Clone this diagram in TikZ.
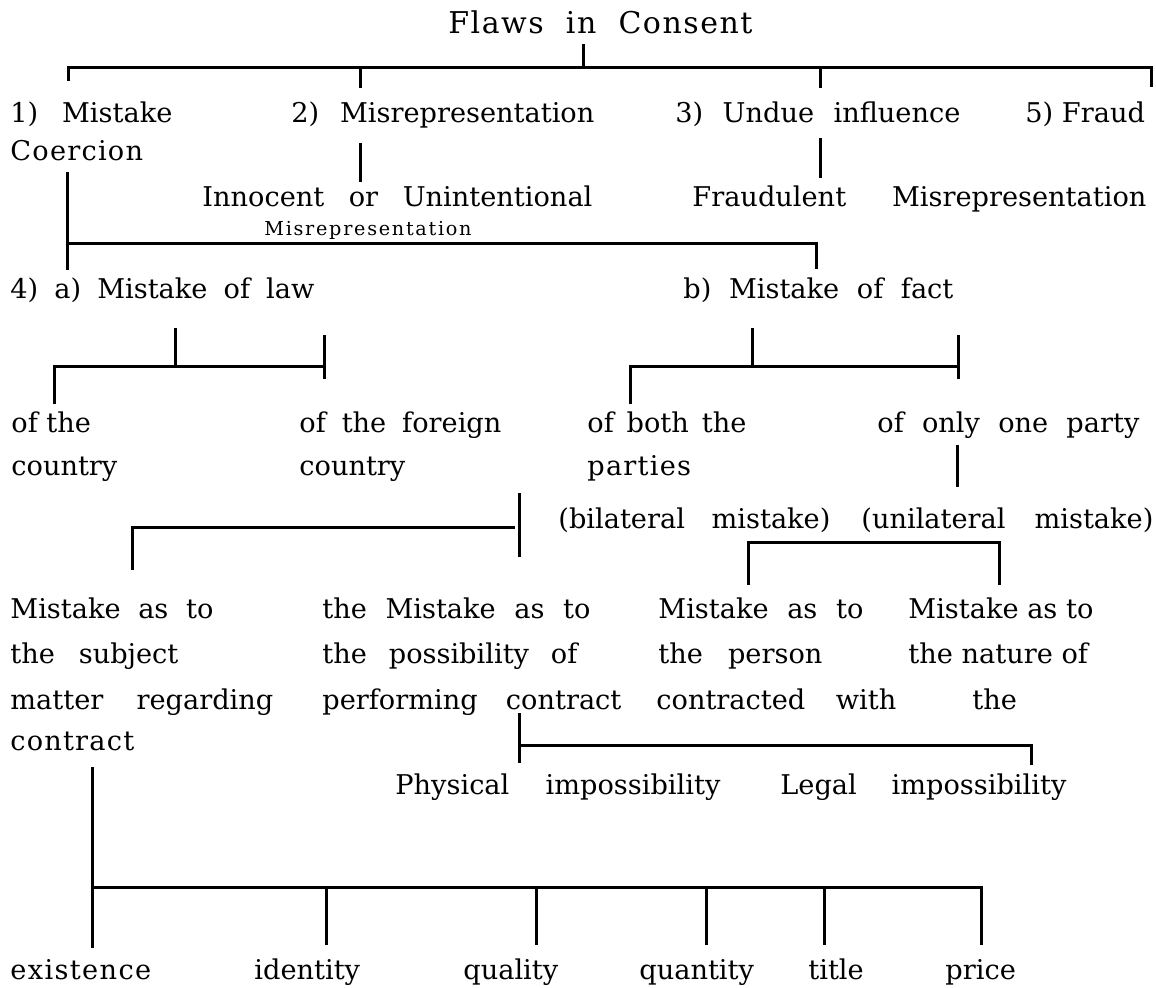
\documentclass[tikz,border=0pt]{standalone}
\usepackage{fontspec}
\setmainfont{DejaVu Serif}
\usetikzlibrary{positioning}
\newlength\pxu
\setlength\pxu{0.5pt}
% spread the words of one line over a width given in px
\newcommand\spread[2]{\makebox[#1\pxu][s]{#2}}

\begin{document}
\begin{tikzpicture}[
  x=0.5pt, y=-0.5pt,
  term/.style={anchor=base west, inner sep=0pt, font=\fontsize{13.6}{16}\selectfont},
  wideterm/.style={term, font=\fontsize{13.6}{16}\selectfont\addfontfeature{LetterSpace=#1}},
  headterm/.style={term, font=\fontsize{15}{18}\selectfont\addfontfeature{LetterSpace=5}},
  smallterm/.style={term, font=\fontsize{9.6}{12}\selectfont\addfontfeature{LetterSpace=9}},
  wire/.style={line width=1.5pt, line join=miter},
]
\useasboundingbox (0,0) rectangle (1156,987);

% title and first level
\node[headterm] (title) at (448,33) {\spread{304}{Flaws in Consent}};
\node[term] (mistake) at (10,122) {\spread{162}{1) Mistake}};
\node[term] (misrep) at (291,122) {\spread{303}{2) Misrepresentation}};
\node[term] (undue) at (675,122) {\spread{285}{3) Undue influence}};
\node[term] (fraud) at (1025,122) {5) Fraud};
\node[wideterm=4.5] (coercion) at (10,160) {Coercion};
\node[term] (innocent) at (202,206) {\spread{390}{Innocent or Unintentional}};
\node[term] (fraudmis) at (692,206) {\spread{454}{Fraudulent Misrepresentation}};
\node[smallterm] (innocentmis) at (264,235) {Misrepresentation};

\coordinate (t0) at (583,44);  \coordinate (t1) at (583,67);
\coordinate (b1) at (68,67);   \coordinate (b1d) at (68,81);
\coordinate (b2) at (360,67);  \coordinate (b2d) at (360,88);
\coordinate (b3) at (820,67);  \coordinate (b3d) at (820,88);
\coordinate (b4) at (1151,67); \coordinate (b4d) at (1151,87);
\draw[wire] (t0) -- (t1);
\draw[wire] (b1d) -- (b1) -- (b4) -- (b4d);
\draw[wire] (b2) -- (b2d);
\draw[wire] (b3) -- (b3d);

\coordinate (mr0) at (360,143); \coordinate (mr1) at (360,182);
\coordinate (ui0) at (820,138); \coordinate (ui1) at (820,178);
\draw[wire] (mr0) -- (mr1);
\draw[wire] (ui0) -- (ui1);

% mistake: law and fact
\coordinate (m0) at (67,172);  \coordinate (m1) at (67,270);
\coordinate (m2) at (67,243);  \coordinate (m3) at (816,243);
\coordinate (m4) at (816,269);
\draw[wire] (m0) -- (m1);
\draw[wire] (m2) -- (m3) -- (m4);

\node[term] (law) at (10,298) {\spread{304}{4) a) Mistake of law}};
\node[term] (fact) at (683,298) {\spread{270}{b) Mistake of fact}};

\coordinate (l0) at (175,328); \coordinate (l1) at (175,366);
\coordinate (l2) at (54,404);  \coordinate (l3) at (54,366);
\coordinate (l4) at (324,366);
\coordinate (l5) at (324,335); \coordinate (l6) at (324,379);
\draw[wire] (l0) -- (l1);
\draw[wire] (l2) -- (l3) -- (l4);
\draw[wire] (l5) -- (l6);

\coordinate (f0) at (752,328); \coordinate (f1) at (752,366);
\coordinate (f2) at (630,404); \coordinate (f3) at (630,366);
\coordinate (f4) at (958,366);
\coordinate (f5) at (958,335); \coordinate (f6) at (958,379);
\draw[wire] (f0) -- (f1);
\draw[wire] (f2) -- (f3) -- (f4);
\draw[wire] (f5) -- (f6);

\node[term] (home) at (11,432) {of the};
\node[term] (home2) at (11,475) {country};
\node[term] (foreign) at (299,432) {\spread{202}{of the foreign}};
\node[term] (foreign2) at (299,475) {country};
\node[term] (both) at (587,432) {\spread{159}{of both the}};
\node[wideterm=4.5] (both2) at (587,475) {parties};
\node[term] (one) at (877,432) {\spread{262}{of only one party}};

\coordinate (o0) at (957,445); \coordinate (o1) at (957,487);
\draw[wire] (o0) -- (o1);

\node[term] (bilat) at (558,528) {\spread{272}{(bilateral mistake)}};
\node[term] (unilat) at (861,528) {\spread{292}{(unilateral mistake)}};

\coordinate (bi0) at (519,493); \coordinate (bi1) at (519,557);
\coordinate (bi2) at (132,570); \coordinate (bi3) at (132,527);
\coordinate (bi4) at (515,527);
\draw[wire] (bi0) -- (bi1);
\draw[wire] (bi2) -- (bi3) -- (bi4);

\coordinate (un0) at (748,585); \coordinate (un1) at (748,542);
\coordinate (un2) at (999,542); \coordinate (un3) at (999,585);
\draw[wire] (un0) -- (un1) -- (un2) -- (un3);

% kinds of mistake
\node[term] (subj1) at (10,618) {\spread{203}{Mistake as to}};
\node[term] (subj2) at (10,663) {\spread{168}{the subject}};
\node[term] (subj3) at (10,709) {\spread{263}{matter regarding}};
\node[wideterm=4.4] (subj4) at (10,750) {contract};
\node[term] (poss1) at (322,618) {\spread{268}{the Mistake as to}};
\node[term] (poss2) at (322,663) {\spread{255}{the possibility of}};
\node[term] (poss3) at (322,709) {\spread{299}{performing contract}};
\node[term] (pers1) at (658,618) {\spread{205}{Mistake as to}};
\node[term] (pers2) at (658,663) {\spread{164}{the person}};
\node[term] (pers3) at (656,709) {\spread{240}{contracted with}};
\node[term] (nat1) at (908,618) {Mistake as to};
\node[term] (nat2) at (908,663) {the nature of};
\node[term] (nat3) at (972,709) {the};

\coordinate (p0) at (519,713);  \coordinate (p1) at (519,763);
\coordinate (p2) at (519,745);  \coordinate (p3) at (1031,745);
\coordinate (p4) at (1031,765);
\draw[wire] (p0) -- (p1);
\draw[wire] (p2) -- (p3) -- (p4);

\node[term] (phys) at (395,794) {\spread{325}{Physical impossibility}};
\node[term] (legal) at (780,794) {\spread{286}{Legal impossibility}};

% subject matter
\coordinate (s0) at (92,767);  \coordinate (s1) at (92,948);
\coordinate (s2) at (92,887);  \coordinate (s3) at (981,887);
\coordinate (s4) at (981,945);
\draw[wire] (s0) -- (s1);
\draw[wire] (s2) -- (s3) -- (s4);
\foreach \x [count=\i] in {326,536,706,824} {
  \coordinate (q\i) at (\x,887);
  \coordinate (q\i d) at (\x,945);
  \draw[wire] (q\i) -- (q\i d);
}

\node[wideterm=5] (exist) at (10,979) {existence};
\node[term] (ident) at (254,979) {identity};
\node[term] (qual) at (463,979) {quality};
\node[term] (quant) at (639,979) {quantity};
\node[term] (titl) at (808,979) {title};
\node[term] (price) at (945,979) {price};

\end{tikzpicture}
\end{document}
